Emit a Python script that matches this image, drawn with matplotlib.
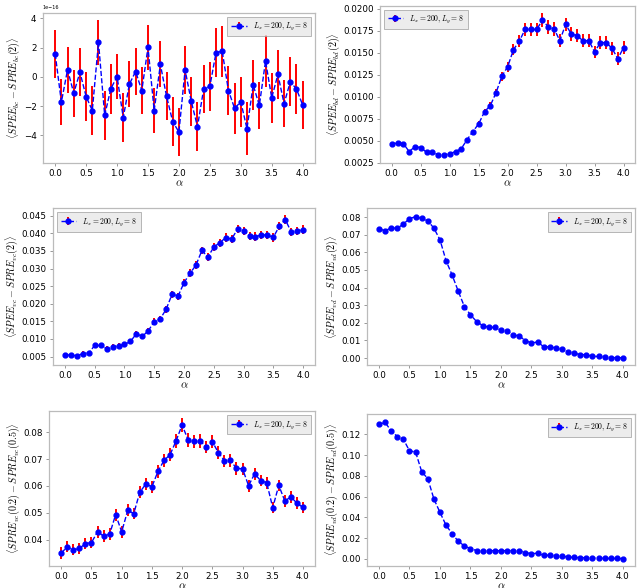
import numpy as np
import matplotlib
matplotlib.use("Agg")
import matplotlib.pyplot as plt
from matplotlib.ticker import MultipleLocator

plt.rcParams['mathtext.fontset'] = 'cm'

alpha = [round(0.1 * i, 1) for i in range(41)]

y1 = [1.57, -1.73, 0.49, -1.12, 0.31, -1.35, -2.31, 2.36, -2.63, -0.81, 0.02, -2.79, -0.49, 0.36, -0.94,
      2.02, -2.31, 0.85, -1.33, -3.08, -3.78, 0.47, -1.69, -3.42, -0.83, -0.65, 1.66, 1.75, -0.94, -2.16,
      -1.71, -3.55, -0.56, -1.96, 1.08, -1.44, 0.16, -1.84, -0.34, -0.83, -1.93]
e1 = [1.66, 1.60, 1.57, 1.62, 1.65, 1.69, 1.65, 1.55, 1.67, 1.71, 1.57, 1.65, 1.58, 1.60, 1.61,
      1.53, 1.57, 1.57, 1.63, 1.67, 1.65, 1.67, 1.66, 1.69, 1.65, 1.66, 1.69, 1.73, 1.69, 1.76,
      1.71, 1.80, 1.71, 1.61, 1.79, 1.72, 1.70, 1.63, 1.69, 1.69, 1.66]

y2 = [0.00467, 0.00471, 0.00467, 0.00376, 0.00433, 0.00421, 0.00368, 0.00368, 0.00341, 0.00338, 0.00353,
      0.00376, 0.00410, 0.00513, 0.00604, 0.00692, 0.00829, 0.00898, 0.01047, 0.01233, 0.01340, 0.01534,
      0.01630, 0.01763, 0.01763, 0.01763, 0.01870, 0.01793, 0.01770, 0.01637, 0.01820, 0.01710, 0.01694,
      0.01633, 0.01637, 0.01508, 0.01614, 0.01614, 0.01550, 0.01431, 0.01557]
e2 = [0.00008, 0.00008, 0.00008, 0.00008, 0.00009, 0.00009, 0.00009, 0.00009, 0.00009, 0.00009, 0.00010,
      0.00012, 0.00014, 0.00018, 0.00022, 0.00026, 0.00030, 0.00036, 0.00042, 0.00050, 0.00057, 0.00063,
      0.00068, 0.00075, 0.00078, 0.00078, 0.00080, 0.00080, 0.00078, 0.00076, 0.00078, 0.00076, 0.00075,
      0.00074, 0.00074, 0.00073, 0.00074, 0.00074, 0.00073, 0.00072, 0.00073]

y3 = [0.00538, 0.00548, 0.00519, 0.00586, 0.00605, 0.00815, 0.00815, 0.00729, 0.00777, 0.00805, 0.00844,
      0.00929, 0.01149, 0.01073, 0.01235, 0.01492, 0.01569, 0.01846, 0.02275, 0.02218, 0.02599, 0.02866,
      0.03095, 0.03515, 0.03325, 0.03611, 0.03735, 0.03878, 0.03840, 0.04126, 0.04069, 0.03926, 0.03907,
      0.03955, 0.03955, 0.03888, 0.04203, 0.04394, 0.04040, 0.04069, 0.04107]
e3 = [0.0006, 0.0006, 0.0006, 0.0006, 0.0006, 0.0007, 0.0007, 0.0007, 0.0007, 0.0007, 0.0007,
      0.0008, 0.0008, 0.0008, 0.0009, 0.0009, 0.0009, 0.0010, 0.0010, 0.0010, 0.0010, 0.0011,
      0.0011, 0.0011, 0.0011, 0.0011, 0.0011, 0.0012, 0.0012, 0.0012, 0.0012, 0.0012, 0.0012,
      0.0012, 0.0012, 0.0012, 0.0012, 0.0012, 0.0012, 0.0012, 0.0012]

y4 = [0.0734, 0.0722, 0.0739, 0.0736, 0.0760, 0.0791, 0.0802, 0.0792, 0.0779, 0.0737, 0.0671,
      0.0552, 0.0470, 0.0379, 0.0292, 0.0245, 0.0207, 0.0184, 0.0174, 0.0174, 0.0157, 0.0152,
      0.0131, 0.0125, 0.0099, 0.0085, 0.0091, 0.0064, 0.0063, 0.0057, 0.0049, 0.0036, 0.0028,
      0.0019, 0.0019, 0.0009, 0.0009, 0.0006, 0.0002, 0.0002, 0.0001]
e4 = [0.0008, 0.0008, 0.0008, 0.0008, 0.0008, 0.0008, 0.0008, 0.0008, 0.0008, 0.0008, 0.0008,
      0.0007, 0.0007, 0.0006, 0.0005, 0.0004, 0.0004, 0.0003, 0.0003, 0.0003, 0.0003, 0.0003,
      0.0002, 0.0002, 0.0002, 0.0002, 0.0002, 0.0002, 0.0002, 0.0001, 0.0001, 0.0001, 0.0001,
      0.0001, 0.0001, 0.0001, 0.0001, 0.0001, 0.0001, 0.0001, 0.0001]

y5 = [0.0350, 0.0373, 0.0362, 0.0367, 0.0385, 0.0389, 0.0429, 0.0413, 0.0420, 0.0493, 0.0429,
      0.0509, 0.0497, 0.0577, 0.0607, 0.0597, 0.0654, 0.0695, 0.0716, 0.0768, 0.0827, 0.0771,
      0.0766, 0.0767, 0.0745, 0.0765, 0.0724, 0.0694, 0.0695, 0.0665, 0.0664, 0.0601, 0.0645,
      0.0620, 0.0612, 0.0519, 0.0602, 0.0544, 0.0559, 0.0536, 0.0520]
e5 = [0.0021, 0.0021, 0.0021, 0.0021, 0.0021, 0.0021, 0.0022, 0.0022, 0.0022, 0.0022, 0.0022,
      0.0022, 0.0022, 0.0023, 0.0023, 0.0023, 0.0023, 0.0024, 0.0024, 0.0025, 0.0026, 0.0025,
      0.0025, 0.0025, 0.0024, 0.0024, 0.0024, 0.0023, 0.0023, 0.0023, 0.0023, 0.0022, 0.0022,
      0.0022, 0.0022, 0.0021, 0.0021, 0.0021, 0.0021, 0.0021, 0.0021]

y6 = [0.1296, 0.1315, 0.1233, 0.1179, 0.1154, 0.1040, 0.1030, 0.0840, 0.0773, 0.0577, 0.0447,
      0.0323, 0.0241, 0.0168, 0.0124, 0.0098, 0.0079, 0.0076, 0.0076, 0.0079, 0.0076, 0.0079,
      0.0079, 0.0079, 0.0060, 0.0048, 0.0054, 0.0032, 0.0035, 0.0029, 0.0025, 0.0016, 0.0013,
      0.0010, 0.0010, 0.0006, 0.0006, 0.0003, 0.0003, 0.0003, 0.0001]
e6 = [0.0015, 0.0015, 0.0015, 0.0015, 0.0015, 0.0014, 0.0014, 0.0012, 0.0011, 0.0009, 0.0008,
      0.0006, 0.0005, 0.0004, 0.0003, 0.0002, 0.0002, 0.0002, 0.0002, 0.0002, 0.0002, 0.0002,
      0.0002, 0.0002, 0.0001, 0.0001, 0.0001, 0.0001, 0.0001, 0.0001, 0.0001, 0.0001, 0.0001,
      0.0001, 0.0001, 0.0001, 0.0001, 0.0001, 0.0001, 0.0001, 0.0001]

ylabels = [r'$\langle SPEE_{bc} - SPRE_{bc}(2)\rangle$',
           r'$\langle SPEE_{bd} - SPRE_{bd}(2)\rangle$',
           r'$\langle SPEE_{vc} - SPRE_{vc}(2)\rangle$',
           r'$\langle SPEE_{vd} - SPRE_{vd}(2)\rangle$',
           r'$\langle SPRE_{vc}(0.2) - SPRE_{vc}(0.5)\rangle$',
           r'$\langle SPRE_{vd}(0.2) - SPRE_{vd}(0.5)\rangle$']
legend_label = r'$L_x=200, L_y=8$'

series = [(y1, e1, 1e-16), (y2, e2, 1), (y3, e3, 1), (y4, e4, 1), (y5, e5, 1), (y6, e6, 1)]
ysteps = [2e-16, 0.0025, 0.005, 0.01, 0.01, 0.02]
positions = [
    [0.067, 0.723, 0.426, 0.255],
    [0.595, 0.723, 0.399, 0.267],
    [0.083, 0.379, 0.410, 0.267],
    [0.574, 0.379, 0.420, 0.267],
    [0.077, 0.038, 0.416, 0.263],
    [0.574, 0.038, 0.420, 0.258],
]
legend_locs = ['upper right', 'upper left', 'upper left', 'upper right', 'upper right', 'upper right']

fig = plt.figure(figsize=(6.39, 5.88), dpi=100)
for i, ((y, e, scale), pos) in enumerate(zip(series, positions)):
    ax = fig.add_axes(pos)
    yy = np.array(y) * scale
    ee = np.array(e) * scale
    ax.errorbar(alpha, yy, yerr=ee, fmt='o--', color='blue', ecolor='red',
                elinewidth=1.4, markersize=3.5, linewidth=1.0, label=legend_label)
    ax.set_xticks([0, 0.5, 1.0, 1.5, 2.0, 2.5, 3.0, 3.5, 4.0])
    ax.yaxis.set_major_locator(MultipleLocator(ysteps[i]))
    ax.set_xlabel(r'$\alpha$', fontsize=8, labelpad=0)
    ax.set_ylabel(ylabels[i], fontsize=7.2, labelpad=1)
    ax.tick_params(labelsize=6.3, length=2.5, width=0.6, color='#888888', pad=2)
    for sp in ax.spines.values():
        sp.set_color('#bbbbbb')
        sp.set_linewidth(0.9)
    ax.yaxis.get_offset_text().set_fontsize(3.5)
    leg = ax.legend(loc=legend_locs[i], fontsize=5.5, frameon=True, fancybox=False,
                    handlelength=2.0, borderpad=0.5)
    leg.get_frame().set_facecolor('#e8e8e8')
    leg.get_frame().set_edgecolor('#999999')
    leg.get_frame().set_linewidth(0.6)

fig.savefig('out.png', dpi=100)
